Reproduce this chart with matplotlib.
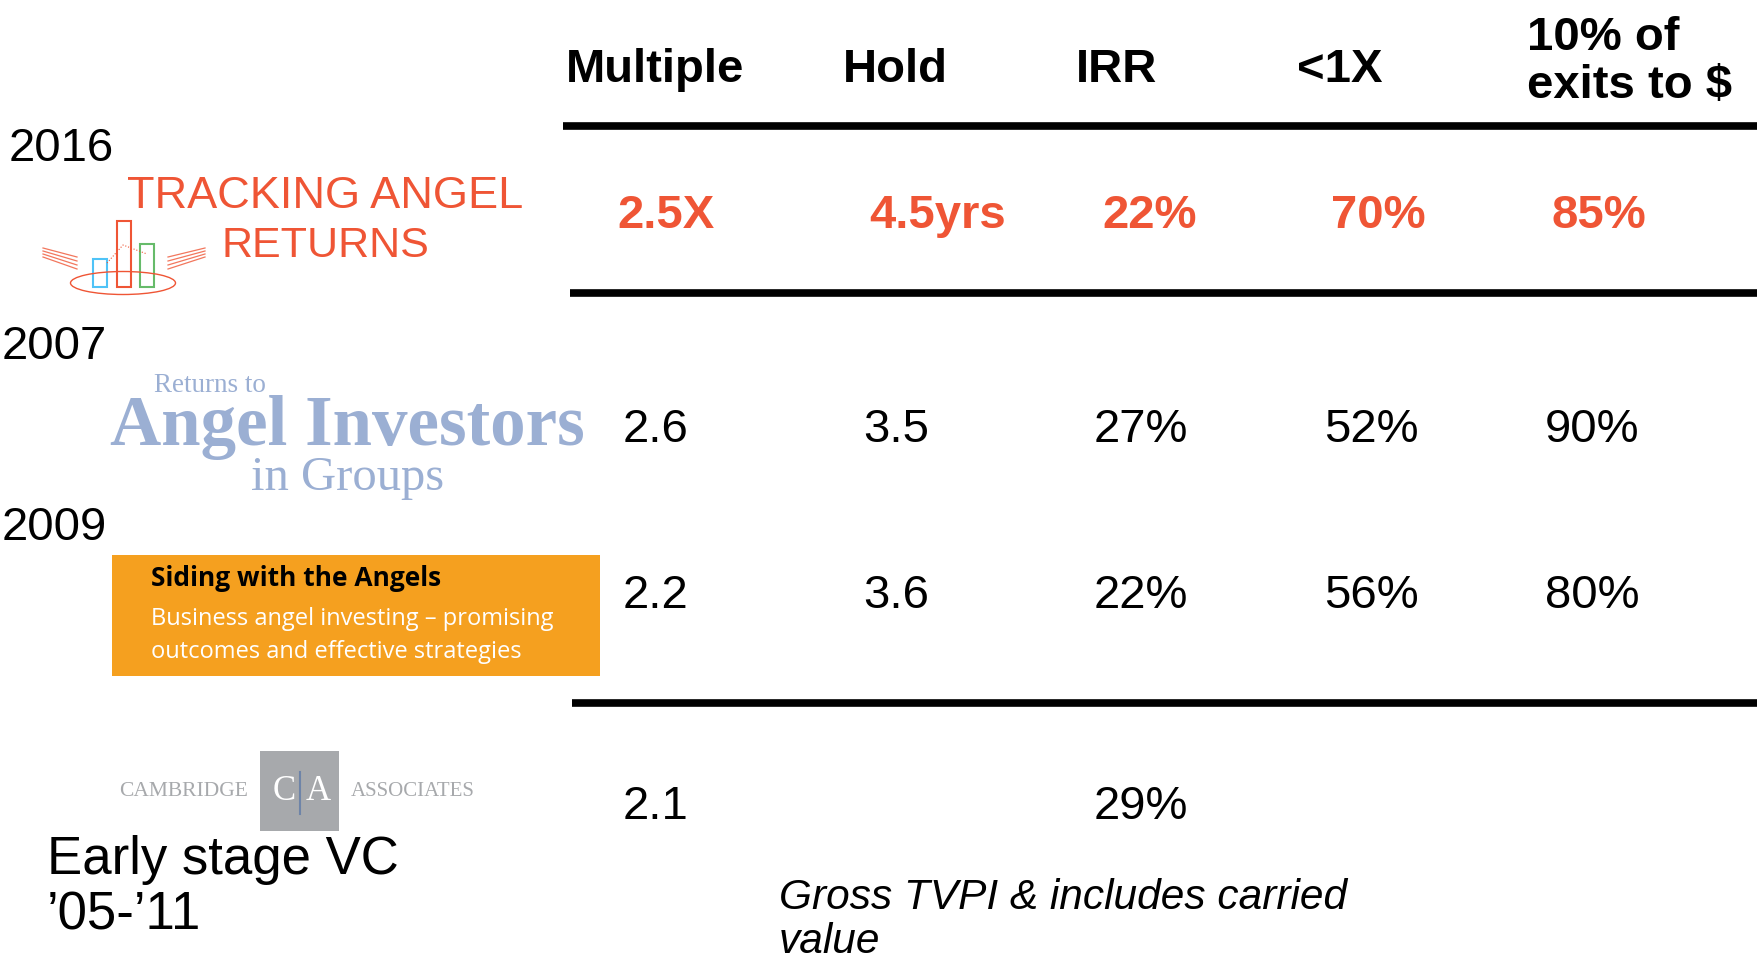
import matplotlib.pyplot as plt
from matplotlib.patches import Rectangle, Ellipse

# table content
headers = ['Multiple', 'Hold', 'IRR', '<1X', '10% of\nexits to $']
years = ['2016', '2007', '2009']
multiple = ['2.5X', '2.6', '2.2', '2.1']
hold = ['4.5yrs', '3.5', '3.6', '']
irr = ['22%', '27%', '22%', '29%']
below_1x = ['70%', '52%', '56%', '']
exits_10 = ['85%', '90%', '80%', '']
vc_label = "Early stage VC\n\u201905-\u201911"
note = "Gross TVPI & includes carried\nvalue"

W, H = 1758, 959
RED = '#EF5535'
BLUE = '#9BAFD3'
ORANGE = '#F5A01F'
GREY = '#A7A9AC'
plt.rcParams['font.family'] = ['Liberation Sans', 'DejaVu Sans']

fig = plt.figure(figsize=(W / 100, H / 100), dpi=100)
ax = fig.add_axes([0, 0, 1, 1])
ax.set_xlim(0, W)
ax.set_ylim(H, 0)
ax.axis('off')

# header row
head_x = [566, 843, 1076, 1297, 1527]
for x, h in zip(head_x, headers):
    ax.text(x, 70 if '\n' not in h else 62, h, fontsize=34, fontweight='bold',
            ha='left', va='center', linespacing=1.12)

# rules
ax.plot([563, W], [126, 126], color='black', lw=5.5, solid_capstyle='butt')
ax.plot([570, W], [293, 293], color='black', lw=5.5, solid_capstyle='butt')
ax.plot([572, W], [703, 703], color='black', lw=5.5, solid_capstyle='butt')

# values
red_x = [617, 869, 1102, 1331, 1552]
col_x = [623, 863, 1094, 1324, 1545]
row_y = [216, 430, 596, 807]
cols = [multiple, hold, irr, below_1x, exits_10]
for r, y in enumerate(row_y):
    for c, col in enumerate(cols):
        if r == 0:
            ax.text(red_x[c], y, col[r], fontsize=34, fontweight='bold', color=RED,
                    ha='left', va='center')
        else:
            ax.text(col_x[c], y, col[r], fontsize=34, ha='left', va='center')

# year labels
for (x, y), yr in zip([(9, 149), (2, 347), (2, 528)], years):
    ax.text(x, y, yr, fontsize=34, ha='left', va='center')

# --- Tracking Angel Returns logo
ax.text(127, 197, 'TRACKING ANGEL', fontsize=32.5, color=RED, ha='left', va='center')
ax.text(222, 246, 'RETURNS', fontsize=31, color=RED, ha='left', va='center')
for x0, y0, c in [(93, 259, '#4FC3F7'), (117, 221, RED), (140, 244, '#66BB6A')]:
    ax.add_patch(Rectangle((x0, y0), 14, 287 - y0, fill=False, ec=c, lw=1.5))
ax.add_patch(Ellipse((123, 283), 105, 23, fill=False, ec=RED, lw=1))
ax.plot([107, 123, 147], [263, 245, 254], color=RED, lw=0.8, ls=':')
for i in range(4):
    ax.plot([43, 77], [248 + i * 3, 257 + i * 4], color=RED, lw=0.9, alpha=0.8)
    ax.plot([168, 205], [257 + i * 4, 248 + i * 3], color=RED, lw=0.9, alpha=0.8)

# --- Returns to Angel Investors in Groups logo
ax.text(154, 386, 'Returns to', fontsize=19.5, color=BLUE, ha='left', va='center',
        family='Liberation Serif')
ax.text(110, 428, 'Angel Investors', fontsize=51, color=BLUE, ha='left',
        va='center', family='Liberation Serif', fontweight='bold')
ax.text(251, 478, 'in Groups', fontsize=35, color=BLUE, ha='left', va='center',
        family='Liberation Serif')

# --- Siding with the Angels box
ax.add_patch(Rectangle((112, 555), 488, 121, color=ORANGE, lw=0))
ax.text(151, 578, 'Siding with the Angels', fontsize=19, fontweight='bold',
        ha='left', va='center', family='Open Sans')
ax.text(151, 619, 'Business angel investing \u2013 promising',
        fontsize=17, color='white', ha='left', va='center', family='Open Sans')
ax.text(151, 652, 'outcomes and effective strategies',
        fontsize=17, color='white', ha='left', va='center', family='Open Sans')

# --- Cambridge Associates logo
ax.add_patch(Rectangle((260, 751), 79, 80, color=GREY, lw=0))
ax.text(119, 791, 'CAMBRIDGE', fontsize=15.5, color=GREY, ha='left', va='center',
        family='Liberation Serif')
ax.text(351, 791, 'ASSOCIATES', fontsize=15, color=GREY, ha='left', va='center',
        family='Liberation Serif')
ax.text(284, 792, 'C', fontsize=25, color='white', ha='center', va='center',
        family='Liberation Serif')
ax.text(318, 792, 'A', fontsize=25, color='white', ha='center', va='center',
        family='Liberation Serif')
ax.plot([300, 300], [772, 814], color='#6E84A8', lw=1.5)

ax.text(47, 888, vc_label, fontsize=38, ha='left', va='center', linespacing=1.15)
ax.text(779, 920, note, fontsize=30.5, style='italic', ha='left', va='center',
        linespacing=1.15)

fig.savefig('out.png', dpi=100)
